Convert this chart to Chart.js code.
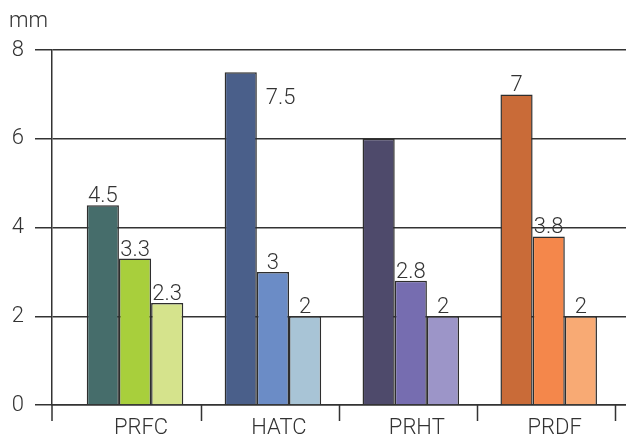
<!DOCTYPE html>
<html>
<head>
<meta charset="utf-8">
<script src="https://cdn.jsdelivr.net/npm/chart.js@4/dist/chart.umd.min.js"></script>
<style>
  html, body { margin: 0; padding: 0; background: #fff; }
  #wrap { width: 626px; height: 439px; }
</style>
</head>
<body>
<div id="wrap"><canvas id="c" width="626" height="439"></canvas></div>
<script>
// Categories and the three bars shown for each of them (mm)
const categories = ['PRFC', 'HATC', 'PRHT', 'PRDF'];
const series1 = [4.5, 7.5, 6, 7];
const series2 = [3.3, 3, 2.8, 3.8];
const series3 = [2.3, 2, 2, 2];
const yTicks = [0, 2, 4, 6, 8];
const unitLabel = 'mm';

// Which bars carry a value label, and where ('top' above, 'side' beside the top)
const labelPlace1 = ['top', 'side', 'none', 'top'];
const labelPlace2 = ['top', 'top', 'top', 'top'];
const labelPlace3 = ['top', 'top', 'top', 'top'];

// Each category has its own colour family (dark, mid, light)
const colors1 = ['#466d6b', '#4a5f8a', '#4e4a6b', '#c96b38'];
const colors2 = ['#a8cf3c', '#6b8cc6', '#766db0', '#f4874b'];
const colors3 = ['#d5e38c', '#a8c4d6', '#9c95c8', '#f8aa74'];

const INK = '#333333';
const FONT = 'Roboto, "Liberation Sans", Arial, sans-serif';
const WEIGHT = '300';

const toPoints = arr => arr.map((v, i) => ({ x: i, y: v }));

const datasets = [
  { data: toPoints(series1), backgroundColor: colors1, places: labelPlace1 },
  { data: toPoints(series2), backgroundColor: colors2, places: labelPlace2 },
  { data: toPoints(series3), backgroundColor: colors3, places: labelPlace3 }
].map(d => Object.assign(d, {
  borderColor: '#2e2e2e',
  borderWidth: 1.5,
  barPercentage: 1.0,
  categoryPercentage: 0.70
}));

// Value labels, unit caption and the axis ticks that fall below the baseline
const decorations = {
  id: 'decorations',
  afterDatasetsDraw(chart) {
    const ctx = chart.ctx;
    ctx.save();
    ctx.fillStyle = INK;
    ctx.font = WEIGHT + ' 22px ' + FONT;
    ctx.textBaseline = 'alphabetic';
    chart.data.datasets.forEach((ds, di) => {
      const meta = chart.getDatasetMeta(di);
      meta.data.forEach((bar, i) => {
        const place = ds.places[i];
        if (place === 'none') return;
        const text = String(ds.data[i].y);
        if (place === 'side') {
          ctx.textAlign = 'left';
          ctx.fillText(text, bar.x + bar.width / 2 + 9, bar.y + 32);
        } else {
          ctx.textAlign = 'center';
          ctx.fillText(text, bar.x, bar.y - 3);
        }
      });
    });
    ctx.restore();
  },
  afterDraw(chart) {
    const ctx = chart.ctx;
    const area = chart.chartArea;
    const xs = chart.scales.x;
    ctx.save();
    ctx.strokeStyle = INK;
    ctx.lineWidth = 1.5;
    ctx.beginPath();
    // y axis continues a little below the baseline
    ctx.moveTo(area.left, area.bottom);
    ctx.lineTo(area.left, area.bottom + 16);
    // separators between categories
    categories.forEach((c, i) => {
      const px = Math.round(xs.getPixelForValue(i + 0.48)) + 0.5;
      ctx.moveTo(px, area.bottom);
      ctx.lineTo(px, area.bottom + 16);
    });
    ctx.stroke();
    // unit caption
    ctx.fillStyle = INK;
    ctx.font = WEIGHT + ' 22px ' + FONT;
    ctx.textAlign = 'left';
    ctx.textBaseline = 'alphabetic';
    ctx.fillText(unitLabel, 9, 27);
    ctx.restore();
  }
};

new Chart(document.getElementById('c'), {
  type: 'bar',
  data: { datasets },
  plugins: [decorations],
  options: {
    responsive: false,
    animation: false,
    devicePixelRatio: 1,
    layout: { padding: { top: 50, right: 0, bottom: 0, left: 0 } },
    plugins: { legend: { display: false }, tooltip: { enabled: false } },
    scales: {
      x: {
        type: 'linear',
        offset: false,
        min: -0.602,
        max: 3.5605,
        afterBuildTicks(scale) {
          scale.ticks = categories.map((c, i) => ({ value: i }));
        },
        afterFit(scale) { scale.height = 34; },
        ticks: {
          autoSkip: false,
          maxRotation: 0,
          padding: 10,
          labelOffset: 6,
          color: INK,
          font: { family: FONT, size: 22, weight: WEIGHT }
        ,
          callback: v => categories[v]
        },
        grid: { display: false, drawTicks: false },
        border: { display: true, color: INK, width: 1.5 }
      },
      y: {
        min: 0,
        max: 8,
        afterBuildTicks(scale) {
          scale.ticks = yTicks.map(v => ({ value: v }));
        },
        afterFit(scale) { scale.width = 52; },
        ticks: {
          padding: 11,
          color: INK,
          font: { family: FONT, size: 22, weight: WEIGHT }
        },
        grid: { color: INK, lineWidth: 1.5, tickLength: 17, drawTicks: true },
        border: { display: true, color: INK, width: 1.5 }
      }
    }
  }
});
</script>
</body>
</html>
